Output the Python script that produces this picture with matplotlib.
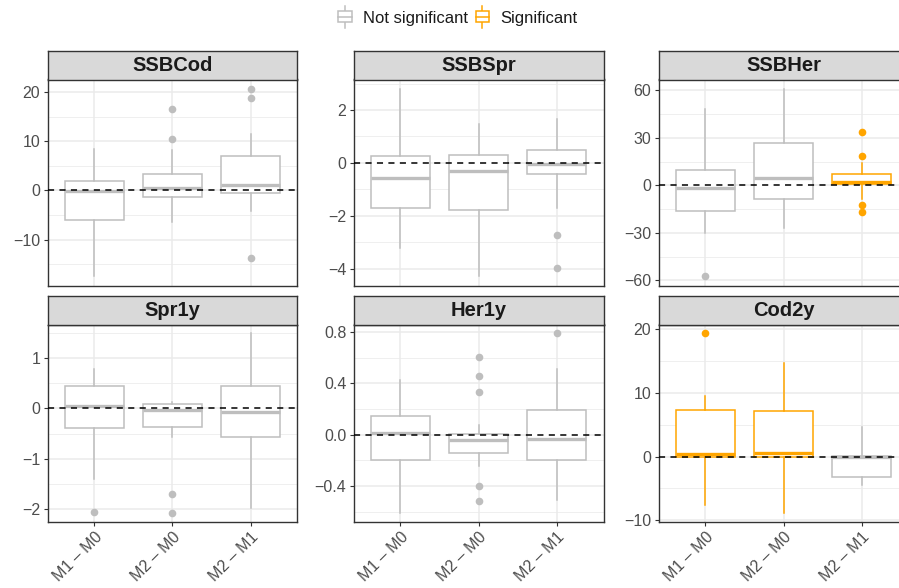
import numpy as np
import matplotlib.pyplot as plt
from matplotlib.patches import Rectangle, Patch
from matplotlib.lines import Line2D
from matplotlib.legend_handler import HandlerBase
from matplotlib.ticker import MultipleLocator, FuncFormatter

plt.rcParams['font.family'] = ['Liberation Sans', 'DejaVu Sans']

comparisons = ["M1 \u2013 M0", "M2 \u2013 M0", "M2 \u2013 M1"]
panels = ["SSBCod", "SSBSpr", "SSBHer", "Spr1y", "Her1y", "Cod2y"]

# box statistics per comparison: whisker low, q1, median, q3, whisker high
ssbcod_stats = [[-17.5, -6.0, -0.1, 1.9, 8.5],
                [-6.4, -1.4, 0.5, 3.3, 8.3],
                [-4.2, -0.6, 1.1, 7.05, 11.6]]
ssbcod_out = [[], [16.7, 10.4], [20.7, 18.8, -13.8]]
ssbcod_sig = [False, False, False]

ssbspr_stats = [[-3.2, -1.72, -0.58, 0.25, 2.8],
                [-4.29, -1.78, -0.30, 0.29, 1.49],
                [-1.70, -0.42, -0.04, 0.47, 1.66]]
ssbspr_out = [[], [], [-2.71, -3.99]]
ssbspr_sig = [False, False, False]

ssbher_stats = [[-30.1, -16.0, -1.9, 9.7, 48.4],
                [-26.7, -8.8, 4.8, 26.9, 61.0],
                [-8.8, 0.8, 2.3, 7.2, 14.3]]
ssbher_out = [[-57.5], [], [33.5, 18.3, -12.4, -16.8]]
ssbher_sig = [False, False, True]

spr1y_stats = [[-1.40, -0.38, 0.04, 0.445, 0.78],
               [-0.57, -0.37, -0.03, 0.08, 0.135],
               [-1.99, -0.57, -0.07, 0.445, 1.49]]
spr1y_out = [[-2.05], [-1.70, -2.08], []]
spr1y_sig = [False, False, False]

her1y_stats = [[-0.61, -0.196, 0.013, 0.146, 0.425],
               [-0.245, -0.141, -0.044, 0.003, 0.078],
               [-0.506, -0.20, -0.029, 0.19, 0.51]]
her1y_out = [[], [0.61, 0.457, 0.334, -0.40, -0.52], [0.79]]
her1y_sig = [False, False, False]

cod2y_stats = [[-7.6, -0.05, 0.37, 7.33, 9.5],
               [-8.85, -0.05, 0.58, 7.2, 14.7],
               [-4.5, -3.25, 0.0, 0.12, 4.66]]
cod2y_out = [[19.3], [], []]
cod2y_sig = [True, True, False]

panel_stats = [ssbcod_stats, ssbspr_stats, ssbher_stats, spr1y_stats, her1y_stats, cod2y_stats]
panel_out = [ssbcod_out, ssbspr_out, ssbher_out, spr1y_out, her1y_out, cod2y_out]
panel_sig = [ssbcod_sig, ssbspr_sig, ssbher_sig, spr1y_sig, her1y_sig, cod2y_sig]
tick_step = [10, 2, 30, 1, 0.4, 10]
tick_fmt = ["%d", "%d", "%d", "%d", "%.1f", "%d"]

GREY = "#BEBEBE"
ORANGE = "#FFA500"
TEXT = "#4D4D4D"
BORDER = "#333333"

W, H = 899, 588
fig = plt.figure(figsize=(W / 100, H / 100), dpi=100)


def px_axes(left, top, width, height):
    return fig.add_axes([left / W, 1 - (top + height) / H, width / W, height / H])


col_left = [47.5, 353.5, 658.5]
col_width = 250
rows = [(50.5, 79.5, 285.7), (295.7, 324.5, 522.0)]  # strip top, panel top, panel bottom

for k, name in enumerate(panels):
    r, c = divmod(k, 3)
    strip_top, p_top, p_bot = rows[r]
    ax = px_axes(col_left[c], p_top, col_width, p_bot - p_top)
    st = px_axes(col_left[c], strip_top, col_width, p_top - strip_top)

    stats = panel_stats[k]
    colors = [ORANGE if s else GREY for s in panel_sig[k]]
    for i, (s, out, col) in enumerate(zip(stats, panel_out[k], colors)):
        d = dict(whislo=s[0], q1=s[1], med=s[2], q3=s[3], whishi=s[4], fliers=out)
        ax.bxp([d], positions=[i + 1], widths=0.75, showcaps=False, patch_artist=True,
               boxprops=dict(facecolor="white", edgecolor=col, linewidth=1.1),
               whiskerprops=dict(color=col, linewidth=1.1),
               medianprops=dict(color=col, linewidth=2.4, solid_capstyle="butt"),
               flierprops=dict(marker="o", markerfacecolor=col, markeredgecolor="none",
                               markersize=5.5))

    vals = np.concatenate([np.ravel(stats)] + [np.asarray(o, float) for o in panel_out[k]])
    lo, hi = vals.min(), vals.max()
    pad = 0.05 * (hi - lo)
    ax.set_ylim(lo - pad, hi + pad)
    ax.set_xlim(0.4, 3.6)

    ax.axhline(0, color="black", linestyle=(0, (4, 3.5)), linewidth=1.1, zorder=5)

    step = tick_step[k]
    ax.yaxis.set_major_locator(MultipleLocator(step))
    ax.yaxis.set_minor_locator(MultipleLocator(step / 2))
    fmt = tick_fmt[k]
    ax.yaxis.set_major_formatter(FuncFormatter(lambda v, p, f=fmt: (f % v).replace("-", "\u2212")))
    ax.set_xticks([1, 2, 3])
    ax.set_axisbelow(True)
    ax.grid(which="major", color="#EBEBEB", linewidth=1.1)
    ax.grid(which="minor", axis="y", color="#EBEBEB", linewidth=0.55)
    ax.tick_params(which="minor", length=0)
    ax.tick_params(which="major", length=3.2, width=0.8, color=BORDER,
                   labelsize=11.5, labelcolor=TEXT, pad=2)
    if r == 1:
        ax.set_xticklabels(comparisons, rotation=45, ha="right", va="top",
                           rotation_mode="anchor")
    else:
        ax.set_xticklabels([])
        ax.tick_params(axis="x", length=0)
    for sp in ax.spines.values():
        sp.set_color(BORDER)
        sp.set_linewidth(1.0)

    st.set_facecolor("#D9D9D9")
    st.set_xticks([])
    st.set_yticks([])
    for sp in st.spines.values():
        sp.set_color(BORDER)
        sp.set_linewidth(1.0)
    st.text(0.5, 0.47, name, transform=st.transAxes, ha="center", va="center",
            fontsize=14.5, fontweight="bold", color="#1A1A1A")


class BoxKey(HandlerBase):
    def create_artists(self, legend, orig_handle, xdescent, ydescent, width, height,
                       fontsize, trans):
        col = orig_handle.get_edgecolor()
        x0, y0 = -xdescent, -ydescent
        h = height * 1.9
        yb = y0 + height / 2 - h / 2
        xm = x0 + width / 2
        lw = 1.1
        box = Rectangle((x0, yb + h * 0.25), width, h * 0.5, facecolor="white",
                        edgecolor=col, linewidth=lw, transform=trans)
        w1 = Line2D([xm, xm], [yb, yb + h * 0.25], color=col, linewidth=lw, transform=trans)
        w2 = Line2D([xm, xm], [yb + h * 0.75, yb + h], color=col, linewidth=lw, transform=trans)
        med = Line2D([x0, x0 + width], [yb + h / 2, yb + h / 2], color=col, linewidth=lw,
                     transform=trans)
        return [w1, w2, box, med]


handles = [Patch(edgecolor=GREY, facecolor="white"), Patch(edgecolor=ORANGE, facecolor="white")]
fig.legend(handles, ["Not significant", "Significant"], handler_map={Patch: BoxKey()},
           loc="center", bbox_to_anchor=(458 / W, 1 - 18 / H), ncol=2, frameon=False,
           fontsize=12, handlelength=0.8, handletextpad=0.7, columnspacing=0.45,
           labelcolor="#1A1A1A")

fig.savefig("out.png", dpi=100)
